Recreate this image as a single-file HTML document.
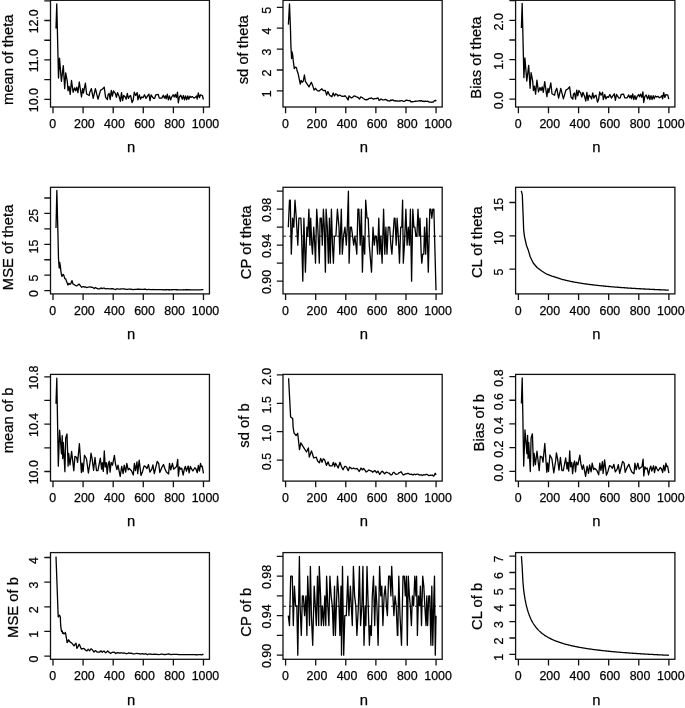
<!DOCTYPE html>
<html><head><meta charset="utf-8"><style>
html,body{margin:0;padding:0;background:#fff;overflow:hidden;}
svg{display:block;will-change:transform;}
text{font-family:"Liberation Sans",sans-serif;fill:#000;stroke:#000;stroke-width:0.25px;}
.tl{font-size:12.4px;}
.al{font-size:14.8px;}
.d{fill:none;stroke:#000;stroke-width:1.3;stroke-linejoin:round;}
.b{fill:none;stroke:#111;stroke-width:1.3;}
.t{fill:none;stroke:#111;stroke-width:1.3;}
.h{stroke:#000;stroke-width:0.9;stroke-dasharray:3 3;}
</style></head><body>
<svg width="685" height="708" viewBox="0 0 685 708">
<polyline class="d" points="56.00,28.40 56.76,3.80 58.50,78.00 59.50,58.10 61.40,81.30 63.30,65.60 64.70,88.60 65.70,72.90 67.30,81.30 68.00,90.80 69.10,86.40 70.20,94.40 71.50,80.50 73.10,92.20 74.60,87.80 75.70,90.80 76.80,87.10 77.90,92.60 79.30,82.00 81.50,97.00 82.60,88.60 83.40,93.00 85.40,83.10 86.60,94.00 89.20,95.50 89.90,91.90 91.40,88.60 93.20,98.40 95.40,88.60 98.00,99.20 100.50,90.40 102.30,89.30 104.20,87.10 105.60,97.30 107.40,99.50 108.00,94.80 109.10,93.30 110.20,99.50 111.30,90.40 112.40,96.20 113.50,90.80 114.20,91.90 115.30,93.30 116.40,97.30 117.50,92.60 119.00,96.20 120.40,101.40 121.50,92.60 122.60,100.60 123.70,95.50 125.20,97.00 126.20,99.20 127.30,93.30 128.40,98.40 129.50,96.20 130.60,95.50 132.10,102.50 133.20,99.90 134.30,92.20 135.70,95.50 137.20,92.60 137.90,99.90 139.40,94.80 140.50,99.20 141.60,97.00 143.00,97.70 144.50,94.80 146.00,98.40 147.40,96.20 148.90,94.10 150.00,100.60 151.10,94.80 152.50,97.00 153.60,98.40 154.70,98.40 155.80,94.80 158.20,94.40 159.30,98.10 161.80,98.10 163.30,95.20 164.40,98.10 165.50,95.90 166.20,98.80 167.30,94.10 168.40,99.90 169.50,95.90 170.60,99.90 171.70,97.00 173.20,94.80 174.20,97.00 175.30,94.40 176.40,97.70 177.50,92.20 178.30,102.80 179.40,97.00 180.80,95.20 182.30,99.20 183.40,95.50 184.50,99.90 185.60,95.90 186.70,99.90 187.80,95.90 188.80,99.20 189.90,96.20 191.00,97.30 192.50,96.60 194.00,98.10 195.40,97.30 196.50,95.90 197.20,99.20 198.30,93.00 199.40,97.70 200.50,94.80 202.40,95.50 203.40,99.50"/>
<rect class="b" x="50.50" y="0.30" width="158.95" height="106.70"/>
<path class="t" d="M50.50 99.40h-6.2M50.50 79.68h-6.2M50.50 59.96h-6.2M50.50 40.24h-6.2M50.50 20.52h-6.2M50.50 0.80h-6.2M53.00 107.00v6.2M83.09 107.00v6.2M113.19 107.00v6.2M143.28 107.00v6.2M173.38 107.00v6.2M203.47 107.00v6.2"/>
<text class="tl" transform="translate(38.20,100.17) rotate(-90)" text-anchor="middle">10.0</text>
<text class="tl" transform="translate(38.20,60.73) rotate(-90)" text-anchor="middle">11.0</text>
<text class="tl" transform="translate(38.20,21.29) rotate(-90)" text-anchor="middle">12.0</text>
<text class="tl" x="52.75" y="128.10" text-anchor="middle">0</text>
<text class="tl" x="84.34" y="128.10" text-anchor="middle">200</text>
<text class="tl" x="114.44" y="128.10" text-anchor="middle">400</text>
<text class="tl" x="144.53" y="128.10" text-anchor="middle">600</text>
<text class="tl" x="174.63" y="128.10" text-anchor="middle">800</text>
<text class="tl" x="205.47" y="128.10" text-anchor="middle">1000</text>
<text class="al" x="131.17" y="152.20" text-anchor="middle">n</text>
<text class="al" transform="translate(13.00,59.70) rotate(-90)" text-anchor="middle">mean of theta</text>
<polyline class="d" points="288.40,24.60 289.50,3.80 290.50,30.00 290.90,45.60 291.60,58.50 292.10,52.00 292.70,54.80 293.20,60.30 294.30,68.60 295.40,67.20 296.40,67.60 297.30,71.30 298.00,73.20 300.30,84.20 301.20,80.50 302.20,82.30 303.30,81.00 304.40,75.00 305.40,81.40 307.20,84.20 309.00,86.90 311.30,82.30 312.70,85.60 314.10,90.10 315.50,88.30 317.30,90.60 319.10,91.10 321.90,88.80 323.30,90.60 325.30,90.30 326.60,95.10 327.90,91.60 329.30,94.70 330.17,95.86 331.03,96.01 331.90,96.90 333.20,92.90 334.50,96.00 335.80,93.80 336.90,94.51 338.00,96.00 338.90,95.17 339.80,95.10 340.90,95.78 342.00,96.40 342.75,96.12 343.50,96.38 344.25,96.32 345.00,95.60 345.77,96.62 346.55,97.37 347.33,98.78 348.10,100.00 349.00,96.00 350.05,96.86 351.10,97.80 351.88,97.73 352.65,97.37 353.43,96.37 354.20,96.00 355.07,96.10 355.93,96.55 356.80,96.90 357.70,97.30 358.60,98.02 359.50,99.10 360.80,96.90 361.65,97.24 362.50,97.80 363.38,98.52 364.25,98.96 365.12,99.66 366.00,100.00 366.90,99.35 367.80,99.71 368.70,98.60 369.57,98.28 370.43,98.47 371.30,97.80 372.40,98.69 373.50,99.10 374.60,98.71 375.70,98.60 376.80,98.49 377.90,97.80 379.20,100.40 380.05,99.85 380.90,99.10 381.67,99.23 382.45,99.96 383.23,99.78 384.00,100.00 384.75,99.69 385.50,99.40 386.38,99.88 387.25,100.33 388.12,100.84 389.00,100.80 389.88,101.08 390.75,99.89 391.62,100.52 392.50,99.90 393.38,100.19 394.25,100.89 395.12,100.68 396.00,101.20 396.88,100.69 397.75,101.21 398.62,101.08 399.50,100.80 400.38,101.02 401.25,100.53 402.12,100.74 403.00,101.20 403.88,101.50 404.76,101.11 405.64,100.48 406.52,100.17 407.40,100.30 408.28,100.66 409.16,100.55 410.04,100.52 410.92,101.75 411.80,101.60 412.68,101.76 413.55,101.55 414.43,101.44 415.30,101.20 416.18,101.23 417.05,101.10 417.93,101.03 418.80,100.80 419.68,100.67 420.56,101.04 421.44,100.63 422.32,101.24 423.20,101.20 424.06,101.54 424.92,101.21 425.78,101.27 426.64,101.31 427.50,101.20 428.40,101.56 429.30,102.14 430.20,102.10 430.95,102.17 431.70,102.25 432.45,102.00 433.20,102.10 434.30,100.88 435.40,100.30 436.30,101.20"/>
<rect class="b" x="283.00" y="0.30" width="159.20" height="106.70"/>
<path class="t" d="M283.00 90.90h-6.2M283.00 70.00h-6.2M283.00 49.10h-6.2M283.00 28.20h-6.2M283.00 7.30h-6.2M285.60 107.00v6.2M315.69 107.00v6.2M345.79 107.00v6.2M375.88 107.00v6.2M405.98 107.00v6.2M436.07 107.00v6.2"/>
<text class="tl" transform="translate(270.70,93.83) rotate(-90)" text-anchor="middle">1</text>
<text class="tl" transform="translate(270.70,72.93) rotate(-90)" text-anchor="middle">2</text>
<text class="tl" transform="translate(270.70,52.03) rotate(-90)" text-anchor="middle">3</text>
<text class="tl" transform="translate(270.70,31.13) rotate(-90)" text-anchor="middle">4</text>
<text class="tl" transform="translate(270.70,10.23) rotate(-90)" text-anchor="middle">5</text>
<text class="tl" x="285.35" y="128.10" text-anchor="middle">0</text>
<text class="tl" x="316.94" y="128.10" text-anchor="middle">200</text>
<text class="tl" x="347.04" y="128.10" text-anchor="middle">400</text>
<text class="tl" x="377.13" y="128.10" text-anchor="middle">600</text>
<text class="tl" x="407.23" y="128.10" text-anchor="middle">800</text>
<text class="tl" x="438.07" y="128.10" text-anchor="middle">1000</text>
<text class="al" x="363.80" y="152.20" text-anchor="middle">n</text>
<text class="al" transform="translate(248.00,49.80) rotate(-90)" text-anchor="middle">sd of theta</text>
<polyline class="d" points="521.40,28.10 522.16,3.50 523.90,77.70 524.90,57.80 526.80,81.00 528.70,65.30 530.10,88.30 531.10,72.60 532.70,81.00 533.40,90.50 534.50,86.10 535.60,94.10 536.90,80.20 538.50,91.90 540.00,87.50 541.10,90.50 542.20,86.80 543.30,92.30 544.70,81.70 546.90,96.70 548.00,88.30 548.80,92.70 550.80,82.80 552.00,93.70 554.60,95.20 555.30,91.60 556.80,88.30 558.60,98.10 560.80,88.30 563.40,98.90 565.90,90.10 567.70,89.00 569.60,86.80 571.00,97.00 572.80,99.20 573.40,94.50 574.50,93.00 575.60,99.20 576.70,90.10 577.80,95.90 578.90,90.50 579.60,91.60 580.70,93.00 581.80,97.00 582.90,92.30 584.40,95.90 585.80,101.10 586.90,92.30 588.00,100.30 589.10,95.20 590.60,96.70 591.60,98.90 592.70,93.00 593.80,98.10 594.90,95.90 596.00,95.20 597.50,102.20 598.60,99.60 599.70,91.90 601.10,95.20 602.60,92.30 603.30,99.60 604.80,94.50 605.90,98.90 607.00,96.70 608.40,97.40 609.90,94.50 611.40,98.10 612.80,95.90 614.30,93.80 615.40,100.30 616.50,94.50 617.90,96.70 619.00,98.10 620.10,98.10 621.20,94.50 623.60,94.10 624.70,97.80 627.20,97.80 628.70,94.90 629.80,97.80 630.90,95.60 631.60,98.50 632.70,93.80 633.80,99.60 634.90,95.60 636.00,99.60 637.10,96.70 638.60,94.50 639.60,96.70 640.70,94.10 641.80,97.40 642.90,91.90 643.70,102.50 644.80,96.70 646.20,94.90 647.70,98.90 648.80,95.20 649.90,99.60 651.00,95.60 652.10,99.60 653.20,95.60 654.20,98.90 655.30,95.90 656.40,97.00 657.90,96.30 659.40,97.80 660.80,97.00 661.90,95.60 662.60,98.90 663.70,92.70 664.80,97.40 665.90,94.50 667.80,95.20 668.80,99.20"/>
<rect class="b" x="515.60" y="0.30" width="159.30" height="106.70"/>
<path class="t" d="M515.60 99.10h-6.2M515.60 79.40h-6.2M515.60 59.70h-6.2M515.60 40.00h-6.2M515.60 20.30h-6.2M515.60 0.60h-6.2M518.40 107.00v6.2M548.49 107.00v6.2M578.59 107.00v6.2M608.68 107.00v6.2M638.78 107.00v6.2M668.87 107.00v6.2"/>
<text class="tl" transform="translate(503.30,100.59) rotate(-90)" text-anchor="middle">0.0</text>
<text class="tl" transform="translate(503.30,61.19) rotate(-90)" text-anchor="middle">1.0</text>
<text class="tl" transform="translate(503.30,21.79) rotate(-90)" text-anchor="middle">2.0</text>
<text class="tl" x="518.15" y="128.10" text-anchor="middle">0</text>
<text class="tl" x="549.74" y="128.10" text-anchor="middle">200</text>
<text class="tl" x="579.84" y="128.10" text-anchor="middle">400</text>
<text class="tl" x="609.93" y="128.10" text-anchor="middle">600</text>
<text class="tl" x="640.03" y="128.10" text-anchor="middle">800</text>
<text class="tl" x="670.87" y="128.10" text-anchor="middle">1000</text>
<text class="al" x="596.45" y="152.20" text-anchor="middle">n</text>
<text class="al" transform="translate(481.20,57.60) rotate(-90)" text-anchor="middle">Bias of theta</text>
<polyline class="d" points="56.00,227.90 56.85,190.50 58.10,240.39 58.50,258.73 58.50,258.73 59.20,268.05 59.50,264.10 59.70,262.34 60.30,265.67 60.80,270.58 61.40,274.36 61.90,276.43 63.00,274.60 63.30,274.36 64.00,275.81 64.70,278.31 64.90,278.63 65.60,278.84 65.70,278.94 67.30,283.39 67.90,285.02 68.00,284.91 68.80,283.40 69.10,283.58 69.80,284.33 70.20,284.20 70.90,283.59 71.50,281.69 72.00,280.57 73.00,283.95 73.10,284.03 74.60,284.83 74.80,284.98 75.70,285.59 76.60,285.95 76.80,285.78 77.90,285.17 78.90,284.04 79.30,284.24 80.30,285.53 81.50,287.06 81.70,287.24 82.60,286.68 83.10,286.57 83.40,286.74 84.90,287.05 85.40,286.94 86.60,287.51 86.70,287.52 89.20,286.91 89.50,286.80 89.90,286.92 90.90,287.24 91.40,287.17 92.90,287.32 93.20,287.66 94.20,288.57 95.40,287.56 95.50,287.50 96.90,288.49 98.00,288.75 99.50,288.97 100.50,288.16 100.80,287.91 102.10,288.64 102.30,288.56 103.40,288.05 104.20,288.21 105.60,288.83 107.40,288.63 108.00,288.67 109.10,288.79 109.60,288.90 110.20,288.89 111.30,288.66 112.40,288.74 112.60,288.71 113.50,288.88 114.20,289.12 115.30,289.45 115.70,289.57 116.40,289.02 116.60,288.82 117.50,288.91 118.70,289.18 119.00,289.16 120.40,289.01 121.50,288.78 121.80,288.79 122.60,288.89 123.70,288.95 124.40,289.01 125.20,289.15 126.20,289.33 127.10,289.41 127.30,289.33 128.40,289.03 129.50,289.13 130.10,289.19 130.60,289.25 132.10,289.43 133.20,289.57 133.60,289.61 134.30,289.45 135.70,289.40 136.30,289.32 137.20,289.23 137.90,289.27 138.90,289.20 139.40,289.23 140.50,289.40 141.10,289.46 141.60,289.43 143.00,289.38 143.30,289.36 144.50,289.24 145.50,289.21 146.00,289.40 146.80,289.67 147.40,289.59 148.50,289.42 148.90,289.43 150.00,289.53 151.10,289.55 151.60,289.59 152.50,289.54 153.10,289.51 153.60,289.55 154.70,289.62 155.80,289.65 156.60,289.70 158.20,289.63 159.30,289.63 160.10,289.60 161.80,289.70 163.30,289.75 163.60,289.78 164.40,289.79 165.50,289.75 166.20,289.76 167.10,289.71 167.30,289.69 168.40,289.77 169.50,289.76 170.60,289.81 171.70,289.76 173.20,289.68 174.20,289.68 175.00,289.63 175.30,289.63 176.40,289.73 177.50,289.68 178.30,289.79 179.40,289.85 180.80,289.81 182.30,289.82 182.90,289.80 183.40,289.77 184.50,289.78 185.60,289.74 186.40,289.74 186.70,289.75 187.80,289.74 188.80,289.78 189.90,289.77 190.80,289.80 191.00,289.80 192.50,289.79 194.00,289.80 195.10,289.80 195.40,289.81 196.50,289.85 197.20,289.91 197.80,289.91 198.30,289.85 199.40,289.93 200.50,289.89 200.80,289.90 202.40,289.71 203.00,289.66 203.40,289.73"/>
<rect class="b" x="50.50" y="187.30" width="158.95" height="106.60"/>
<path class="t" d="M50.50 290.60h-6.2M50.50 275.17h-6.2M50.50 259.74h-6.2M50.50 244.31h-6.2M50.50 228.88h-6.2M50.50 213.45h-6.2M50.50 198.02h-6.2M53.00 293.90v6.2M83.09 293.90v6.2M113.19 293.90v6.2M143.28 293.90v6.2M173.38 293.90v6.2M203.47 293.90v6.2"/>
<text class="tl" transform="translate(38.20,293.53) rotate(-90)" text-anchor="middle">0</text>
<text class="tl" transform="translate(38.20,278.10) rotate(-90)" text-anchor="middle">5</text>
<text class="tl" transform="translate(38.20,246.52) rotate(-90)" text-anchor="middle">15</text>
<text class="tl" transform="translate(38.20,215.66) rotate(-90)" text-anchor="middle">25</text>
<text class="tl" x="52.75" y="315.00" text-anchor="middle">0</text>
<text class="tl" x="84.34" y="315.00" text-anchor="middle">200</text>
<text class="tl" x="114.44" y="315.00" text-anchor="middle">400</text>
<text class="tl" x="144.53" y="315.00" text-anchor="middle">600</text>
<text class="tl" x="174.63" y="315.00" text-anchor="middle">800</text>
<text class="tl" x="205.47" y="315.00" text-anchor="middle">1000</text>
<text class="al" x="131.17" y="339.10" text-anchor="middle">n</text>
<text class="al" transform="translate(13.40,247.40) rotate(-90)" text-anchor="middle">MSE of theta</text>
<polyline class="d" points="288.30,227.20 289.50,200.20 290.30,200.20 291.30,254.20 292.60,218.20 293.80,227.20 295.00,200.20 296.30,218.20 297.80,245.20 298.90,218.20 300.90,218.20 301.60,236.20 302.80,281.20 303.90,218.20 305.40,272.20 306.90,227.20 307.70,236.20 308.90,209.20 309.90,245.20 310.70,218.20 311.80,245.20 312.50,254.20 313.70,227.20 314.80,245.20 315.50,263.20 316.70,209.20 317.80,227.20 319.30,263.20 320.10,218.20 321.30,218.20 322.30,245.20 323.40,209.20 324.30,227.20 325.40,272.20 326.10,209.20 327.30,227.20 328.40,263.20 329.40,218.20 330.30,263.20 331.40,209.20 332.50,245.20 333.40,263.20 334.40,236.20 335.90,236.20 337.40,209.20 339.00,227.20 339.80,254.20 341.30,209.20 342.30,254.20 343.50,236.20 345.00,227.20 346.30,245.20 347.30,227.20 348.40,191.20 349.10,263.20 350.30,227.20 351.40,227.20 352.60,236.20 353.70,245.20 354.90,236.20 355.90,245.20 356.80,254.20 357.90,209.20 358.90,209.20 360.20,245.20 361.40,209.20 362.40,272.20 363.50,236.20 364.70,254.20 365.70,200.20 367.00,218.20 368.20,218.20 369.30,245.20 371.50,272.20 373.00,227.20 374.30,245.20 375.30,236.20 376.40,236.20 377.60,254.20 378.80,218.20 379.80,254.20 380.90,236.20 382.10,263.20 383.60,209.20 384.80,254.20 385.90,227.20 387.00,254.20 388.20,227.20 389.70,227.20 390.90,245.20 391.90,254.20 393.00,236.20 394.20,218.20 395.00,218.20 396.20,245.20 397.10,218.20 398.30,236.20 399.50,263.20 400.70,227.20 401.80,227.20 402.60,200.20 403.30,263.20 404.40,245.20 405.90,209.20 407.10,245.20 408.30,227.20 409.40,245.20 410.40,209.20 411.60,281.20 412.80,209.20 413.90,227.20 414.90,227.20 415.90,236.20 416.90,236.20 418.00,209.20 419.20,236.20 420.00,218.20 421.20,254.20 421.80,263.20 422.70,254.20 423.80,254.20 424.50,227.20 425.70,254.20 426.80,218.20 428.30,272.20 429.80,209.20 430.90,209.20 431.80,218.20 432.80,209.20 433.90,209.20 434.80,245.20 436.00,290.20"/>
<line class="h" x1="283.00" x2="442.20" y1="236.20" y2="236.20"/>
<rect class="b" x="283.00" y="187.30" width="159.20" height="106.60"/>
<path class="t" d="M283.00 281.20h-6.2M283.00 263.20h-6.2M283.00 245.20h-6.2M283.00 227.20h-6.2M283.00 209.20h-6.2M283.00 191.20h-6.2M285.60 293.90v6.2M315.69 293.90v6.2M345.79 293.90v6.2M375.88 293.90v6.2M405.98 293.90v6.2M436.07 293.90v6.2"/>
<text class="tl" transform="translate(270.70,281.97) rotate(-90)" text-anchor="middle">0.90</text>
<text class="tl" transform="translate(270.70,245.97) rotate(-90)" text-anchor="middle">0.94</text>
<text class="tl" transform="translate(270.70,209.97) rotate(-90)" text-anchor="middle">0.98</text>
<text class="tl" x="285.35" y="315.00" text-anchor="middle">0</text>
<text class="tl" x="316.94" y="315.00" text-anchor="middle">200</text>
<text class="tl" x="347.04" y="315.00" text-anchor="middle">400</text>
<text class="tl" x="377.13" y="315.00" text-anchor="middle">600</text>
<text class="tl" x="407.23" y="315.00" text-anchor="middle">800</text>
<text class="tl" x="438.07" y="315.00" text-anchor="middle">1000</text>
<text class="al" x="363.80" y="339.10" text-anchor="middle">n</text>
<text class="al" transform="translate(251.20,242.30) rotate(-90)" text-anchor="middle">CP of theta</text>
<polyline class="d" points="521.30,190.80 522.30,194.60 523.00,212.40 523.70,230.30 524.50,236.60 526.50,245.50 528.40,250.60 530.30,257.00 533.40,263.30 537.30,267.80 541.70,271.00 546.80,274.20 551.90,276.10 553.01,276.36 553.76,276.64 554.51,276.92 555.27,277.20 556.02,277.46 556.77,277.71 557.52,277.96 558.27,278.20 559.03,278.43 559.78,278.66 560.53,278.88 561.28,279.10 562.04,279.30 562.79,279.51 563.54,279.71 564.29,279.90 565.05,280.09 565.80,280.27 566.55,280.45 567.30,280.63 568.06,280.80 568.81,280.96 569.56,281.13 570.31,281.29 571.06,281.44 571.82,281.60 572.57,281.74 573.32,281.89 574.07,282.03 574.83,282.17 575.58,282.31 576.33,282.45 577.08,282.58 577.84,282.71 578.59,282.84 579.34,282.96 580.09,283.08 580.85,283.20 581.60,283.32 582.35,283.44 583.10,283.55 583.85,283.66 584.61,283.77 585.36,283.88 586.11,283.99 586.86,284.09 587.62,284.19 588.37,284.29 589.12,284.39 589.87,284.49 590.63,284.59 591.38,284.68 592.13,284.77 592.88,284.87 593.63,284.96 594.39,285.05 595.14,285.13 595.89,285.22 596.64,285.30 597.40,285.39 598.15,285.47 598.90,285.55 599.65,285.63 600.41,285.71 601.16,285.79 601.91,285.87 602.66,285.94 603.42,286.02 604.17,286.09 604.92,286.16 605.67,286.24 606.42,286.31 607.18,286.38 607.93,286.45 608.68,286.51 609.43,286.58 610.19,286.65 610.94,286.71 611.69,286.78 612.44,286.84 613.20,286.91 613.95,286.97 614.70,287.03 615.45,287.09 616.21,287.15 616.96,287.21 617.71,287.27 618.46,287.33 619.21,287.39 619.97,287.44 620.72,287.50 621.47,287.56 622.22,287.61 622.98,287.66 623.73,287.72 624.48,287.77 625.23,287.82 625.99,287.88 626.74,287.93 627.49,287.98 628.24,288.03 629.00,288.08 629.75,288.13 630.50,288.18 631.25,288.23 632.00,288.28 632.76,288.32 633.51,288.37 634.26,288.42 635.01,288.46 635.77,288.51 636.52,288.55 637.27,288.60 638.02,288.64 638.78,288.69 639.53,288.73 640.28,288.77 641.03,288.82 641.79,288.86 642.54,288.90 643.29,288.94 644.04,288.98 644.79,289.02 645.55,289.06 646.30,289.10 647.05,289.14 647.80,289.18 648.56,289.22 649.31,289.26 650.06,289.30 650.81,289.34 651.57,289.38 652.32,289.41 653.07,289.45 653.82,289.49 654.58,289.52 655.33,289.56 656.08,289.60 656.83,289.63 657.58,289.67 658.34,289.70 659.09,289.74 659.84,289.77 660.59,289.80 661.35,289.84 662.10,289.87 662.85,289.91 663.60,289.94 664.36,289.97 665.11,290.00 665.86,290.04 666.61,290.07 667.37,290.10 668.12,290.13 668.87,290.16"/>
<rect class="b" x="515.60" y="187.30" width="159.30" height="106.60"/>
<path class="t" d="M515.60 269.10h-6.2M515.60 235.80h-6.2M515.60 202.50h-6.2M518.40 293.90v6.2M548.49 293.90v6.2M578.59 293.90v6.2M608.68 293.90v6.2M638.78 293.90v6.2M668.87 293.90v6.2"/>
<text class="tl" transform="translate(503.30,272.03) rotate(-90)" text-anchor="middle">5</text>
<text class="tl" transform="translate(503.30,238.01) rotate(-90)" text-anchor="middle">10</text>
<text class="tl" transform="translate(503.30,204.71) rotate(-90)" text-anchor="middle">15</text>
<text class="tl" x="518.15" y="315.00" text-anchor="middle">0</text>
<text class="tl" x="549.74" y="315.00" text-anchor="middle">200</text>
<text class="tl" x="579.84" y="315.00" text-anchor="middle">400</text>
<text class="tl" x="609.93" y="315.00" text-anchor="middle">600</text>
<text class="tl" x="640.03" y="315.00" text-anchor="middle">800</text>
<text class="tl" x="670.87" y="315.00" text-anchor="middle">1000</text>
<text class="al" x="596.45" y="339.10" text-anchor="middle">n</text>
<text class="al" transform="translate(482.20,242.20) rotate(-90)" text-anchor="middle">CL of theta</text>
<polyline class="d" points="56.00,403.70 56.80,378.20 58.30,466.20 59.60,430.20 61.50,453.90 62.20,435.70 62.70,458.60 63.30,442.50 64.90,471.70 65.70,438.20 67.00,434.00 68.10,466.20 68.70,453.50 70.00,464.90 71.60,451.40 73.80,470.80 74.90,456.40 76.60,457.30 77.60,462.40 79.40,443.70 81.40,472.50 82.20,463.20 83.10,471.70 84.50,455.20 86.50,459.00 88.40,473.00 90.30,460.70 91.00,453.10 92.10,458.60 93.60,470.30 95.00,457.50 96.50,470.70 97.90,470.70 100.30,458.20 101.60,469.20 102.30,462.60 103.30,471.40 104.30,451.00 105.20,467.00 106.30,462.60 107.20,473.90 108.20,464.10 109.20,461.20 110.10,472.10 111.10,462.30 112.50,465.20 114.40,455.30 115.50,464.10 116.90,469.60 118.00,465.20 120.20,476.50 121.70,466.30 123.10,473.60 124.20,465.20 125.70,472.10 126.80,463.40 128.20,469.90 129.30,468.50 131.50,470.70 133.30,475.00 134.40,463.40 135.50,470.70 137.00,461.90 137.70,473.60 139.20,460.10 141.00,475.40 142.60,471.40 144.10,465.90 145.60,466.60 147.00,468.50 148.50,464.50 149.90,472.10 151.80,469.20 152.90,464.80 154.30,473.60 157.20,461.50 158.70,463.40 159.80,472.50 162.00,467.00 163.50,464.50 164.90,468.80 166.40,472.10 168.60,473.90 169.50,463.40 170.80,469.90 172.40,463.40 173.70,469.20 176.60,466.60 177.70,459.30 178.40,476.10 179.50,467.00 180.60,469.20 181.70,468.10 183.20,475.00 184.30,469.20 185.40,466.30 186.40,471.20 188.20,466.00 189.10,472.90 190.40,466.50 191.40,468.70 192.90,471.00 194.80,467.70 196.10,469.20 197.30,472.70 198.30,465.50 199.50,471.00 200.50,463.30 201.30,466.70 202.20,466.30 203.50,473.40"/>
<rect class="b" x="50.50" y="374.40" width="158.95" height="106.70"/>
<path class="t" d="M50.50 471.50h-6.2M50.50 447.82h-6.2M50.50 424.14h-6.2M50.50 400.46h-6.2M50.50 376.78h-6.2M53.00 481.10v6.2M83.09 481.10v6.2M113.19 481.10v6.2M143.28 481.10v6.2M173.38 481.10v6.2M203.47 481.10v6.2"/>
<text class="tl" transform="translate(38.20,472.27) rotate(-90)" text-anchor="middle">10.0</text>
<text class="tl" transform="translate(38.20,424.91) rotate(-90)" text-anchor="middle">10.4</text>
<text class="tl" transform="translate(38.20,377.55) rotate(-90)" text-anchor="middle">10.8</text>
<text class="tl" x="52.75" y="502.20" text-anchor="middle">0</text>
<text class="tl" x="84.34" y="502.20" text-anchor="middle">200</text>
<text class="tl" x="114.44" y="502.20" text-anchor="middle">400</text>
<text class="tl" x="144.53" y="502.20" text-anchor="middle">600</text>
<text class="tl" x="174.63" y="502.20" text-anchor="middle">800</text>
<text class="tl" x="205.47" y="502.20" text-anchor="middle">1000</text>
<text class="al" x="131.17" y="526.30" text-anchor="middle">n</text>
<text class="al" transform="translate(13.30,420.30) rotate(-90)" text-anchor="middle">mean of b</text>
<polyline class="d" points="288.60,378.30 290.60,416.90 292.70,418.60 293.10,427.10 294.00,432.80 296.10,435.60 297.70,433.30 299.50,449.70 300.80,442.90 303.60,447.40 306.50,452.00 308.40,447.90 309.30,457.10 311.50,450.90 313.70,458.00 316.30,457.10 317.60,461.00 319.40,462.80 320.70,458.40 322.00,462.30 323.30,458.80 324.60,459.70 326.40,465.40 328.10,461.90 329.50,465.80 332.10,465.80 333.40,462.30 334.70,466.70 335.60,463.20 338.20,468.00 340.00,462.30 341.30,466.30 343.00,469.80 344.80,466.30 345.65,466.40 346.50,467.10 347.40,469.07 348.30,470.60 349.60,467.10 350.70,467.70 351.80,468.90 352.65,468.51 353.50,468.00 354.40,468.63 355.30,468.90 356.15,468.74 357.00,468.50 358.10,469.90 359.20,471.50 360.10,469.91 361.00,468.00 362.30,469.80 363.60,468.50 364.90,470.20 366.20,472.00 367.03,471.46 367.87,470.81 368.70,470.00 369.48,470.26 370.26,470.73 371.04,470.80 371.82,471.27 372.60,472.20 373.70,471.36 374.80,470.60 375.60,471.18 376.40,472.80 377.20,472.08 378.00,471.10 378.85,472.75 379.70,474.40 380.60,473.13 381.50,471.70 382.40,471.10 383.50,472.49 384.60,473.90 385.70,472.71 386.80,472.20 387.68,472.78 388.56,473.19 389.44,473.22 390.32,474.58 391.20,475.00 392.10,474.47 393.00,472.68 393.90,472.20 394.83,473.31 395.77,474.19 396.70,474.40 397.56,473.98 398.42,473.53 399.28,472.51 400.14,472.28 401.00,471.70 402.10,473.26 403.20,475.00 404.30,474.68 405.40,473.90 406.50,473.81 407.60,473.30 408.53,473.48 409.47,474.19 410.40,474.40 411.30,474.10 412.20,474.73 413.10,475.00 413.93,474.28 414.75,474.15 415.57,474.78 416.40,474.40 417.22,474.22 418.05,474.15 418.88,474.85 419.70,475.00 420.52,474.96 421.35,474.84 422.18,475.59 423.00,475.00 423.80,474.57 424.60,474.85 425.40,474.87 426.20,474.40 427.02,474.34 427.85,474.92 428.68,475.55 429.50,475.50 430.43,475.18 431.37,475.38 432.30,475.00 433.10,475.86 433.90,476.10 435.20,473.30 436.10,475.00"/>
<rect class="b" x="283.00" y="374.40" width="159.20" height="106.70"/>
<path class="t" d="M283.00 460.10h-6.2M283.00 431.70h-6.2M283.00 403.30h-6.2M283.00 374.90h-6.2M285.60 481.10v6.2M315.69 481.10v6.2M345.79 481.10v6.2M375.88 481.10v6.2M405.98 481.10v6.2M436.07 481.10v6.2"/>
<text class="tl" transform="translate(270.70,461.59) rotate(-90)" text-anchor="middle">0.5</text>
<text class="tl" transform="translate(270.70,433.19) rotate(-90)" text-anchor="middle">1.0</text>
<text class="tl" transform="translate(270.70,404.79) rotate(-90)" text-anchor="middle">1.5</text>
<text class="tl" transform="translate(270.70,376.39) rotate(-90)" text-anchor="middle">2.0</text>
<text class="tl" x="285.35" y="502.20" text-anchor="middle">0</text>
<text class="tl" x="316.94" y="502.20" text-anchor="middle">200</text>
<text class="tl" x="347.04" y="502.20" text-anchor="middle">400</text>
<text class="tl" x="377.13" y="502.20" text-anchor="middle">600</text>
<text class="tl" x="407.23" y="502.20" text-anchor="middle">800</text>
<text class="tl" x="438.07" y="502.20" text-anchor="middle">1000</text>
<text class="al" x="363.80" y="526.30" text-anchor="middle">n</text>
<text class="al" transform="translate(249.00,425.50) rotate(-90)" text-anchor="middle">sd of b</text>
<polyline class="d" points="521.40,403.50 522.20,378.00 523.70,466.00 525.00,430.00 526.90,453.70 527.60,435.50 528.10,458.40 528.70,442.30 530.30,471.50 531.10,438.00 532.40,433.80 533.50,466.00 534.10,453.30 535.40,464.70 537.00,451.20 539.20,470.60 540.30,456.20 542.00,457.10 543.00,462.20 544.80,443.50 546.80,472.30 547.60,463.00 548.50,471.50 549.90,455.00 551.90,458.80 553.80,472.80 555.70,460.50 556.40,452.90 557.50,458.40 559.00,470.10 560.40,457.30 561.90,470.50 563.30,470.50 565.70,458.00 567.00,469.00 567.70,462.40 568.70,471.20 569.70,450.80 570.60,466.80 571.70,462.40 572.60,473.70 573.60,463.90 574.60,461.00 575.50,471.90 576.50,462.10 577.90,465.00 579.80,455.10 580.90,463.90 582.30,469.40 583.40,465.00 585.60,476.30 587.10,466.10 588.50,473.40 589.60,465.00 591.10,471.90 592.20,463.20 593.60,469.70 594.70,468.30 596.90,470.50 598.70,474.80 599.80,463.20 600.90,470.50 602.40,461.70 603.10,473.40 604.60,459.90 606.40,475.20 608.00,471.20 609.50,465.70 611.00,466.40 612.40,468.30 613.90,464.30 615.30,471.90 617.20,469.00 618.30,464.60 619.70,473.40 622.60,461.30 624.10,463.20 625.20,472.30 627.40,466.80 628.90,464.30 630.30,468.60 631.80,471.90 634.00,473.70 634.90,463.20 636.20,469.70 637.80,463.20 639.10,469.00 642.00,466.40 643.10,459.10 643.80,475.90 644.90,466.80 646.00,469.00 647.10,467.90 648.60,474.80 649.70,469.00 650.80,466.10 651.80,471.00 653.60,465.80 654.50,472.70 655.80,466.30 656.80,468.50 658.30,470.80 660.20,467.50 661.50,469.00 662.70,472.50 663.70,465.30 664.90,470.80 665.90,463.10 666.70,466.50 667.60,466.10 668.90,473.20"/>
<rect class="b" x="515.60" y="374.40" width="159.30" height="106.70"/>
<path class="t" d="M515.60 471.30h-6.2M515.60 447.62h-6.2M515.60 423.94h-6.2M515.60 400.26h-6.2M515.60 376.58h-6.2M518.40 481.10v6.2M548.49 481.10v6.2M578.59 481.10v6.2M608.68 481.10v6.2M638.78 481.10v6.2M668.87 481.10v6.2"/>
<text class="tl" transform="translate(503.30,472.79) rotate(-90)" text-anchor="middle">0.0</text>
<text class="tl" transform="translate(503.30,449.11) rotate(-90)" text-anchor="middle">0.2</text>
<text class="tl" transform="translate(503.30,425.43) rotate(-90)" text-anchor="middle">0.4</text>
<text class="tl" transform="translate(503.30,401.75) rotate(-90)" text-anchor="middle">0.6</text>
<text class="tl" transform="translate(503.30,378.07) rotate(-90)" text-anchor="middle">0.8</text>
<text class="tl" x="518.15" y="502.20" text-anchor="middle">0</text>
<text class="tl" x="549.74" y="502.20" text-anchor="middle">200</text>
<text class="tl" x="579.84" y="502.20" text-anchor="middle">400</text>
<text class="tl" x="609.93" y="502.20" text-anchor="middle">600</text>
<text class="tl" x="640.03" y="502.20" text-anchor="middle">800</text>
<text class="tl" x="670.87" y="502.20" text-anchor="middle">1000</text>
<text class="al" x="596.45" y="526.30" text-anchor="middle">n</text>
<text class="al" transform="translate(483.70,422.70) rotate(-90)" text-anchor="middle">Bias of b</text>
<polyline class="d" points="56.00,556.50 58.20,616.71 58.30,616.97 59.60,615.16 60.30,616.90 60.70,625.96 61.50,631.31 61.60,631.68 62.20,630.82 62.70,633.33 63.30,632.81 63.70,633.89 64.90,633.30 65.30,632.34 65.70,633.84 67.00,641.58 67.10,642.50 68.10,641.24 68.40,639.97 68.70,639.98 70.00,641.88 71.20,642.70 71.60,642.88 73.80,645.65 74.10,645.88 74.90,644.53 76.00,643.14 76.60,646.67 76.90,648.28 77.60,647.44 79.10,644.23 79.40,644.49 81.30,648.99 81.40,648.97 82.20,648.73 83.10,648.70 83.90,648.42 84.50,648.94 85.20,649.93 86.50,650.58 87.00,650.92 88.30,649.18 88.40,649.31 89.60,650.79 90.30,649.87 90.90,648.83 91.00,648.80 92.10,649.44 92.20,649.50 93.60,651.56 94.00,651.98 95.00,650.92 95.70,650.59 96.50,651.56 97.10,652.16 97.90,652.16 99.70,651.98 100.30,651.27 101.00,650.76 101.60,651.63 102.30,652.33 102.30,652.33 103.20,651.21 103.30,651.28 104.30,651.22 105.20,652.50 105.80,652.81 106.30,652.23 107.20,651.34 107.60,650.85 108.20,651.47 108.90,652.18 109.20,652.35 110.10,653.13 110.60,653.40 111.10,652.99 112.40,652.26 112.50,652.28 114.10,652.22 114.40,652.33 115.50,653.34 115.90,653.59 116.90,652.85 117.20,652.58 118.00,652.74 119.40,653.16 120.20,652.99 121.10,652.89 121.70,652.93 122.90,653.16 123.10,653.14 124.20,653.00 124.60,653.01 125.70,653.48 126.80,653.78 126.80,653.78 128.20,653.12 128.60,652.88 129.30,653.17 129.90,653.42 131.20,653.04 131.50,653.16 132.50,653.54 133.30,653.82 133.80,654.01 134.40,653.78 135.50,653.66 136.30,653.43 137.00,653.43 137.70,653.70 139.20,653.70 140.20,654.06 141.00,653.90 142.40,653.65 142.60,653.73 144.00,654.17 144.10,654.14 145.60,653.74 147.00,654.44 147.30,654.56 148.50,654.16 149.90,653.82 150.00,653.79 151.80,654.35 152.20,654.44 152.90,654.27 154.30,654.08 154.40,654.07 157.20,654.31 158.70,654.58 158.80,654.61 159.80,654.48 161.50,654.05 162.00,654.13 163.50,654.36 164.30,654.54 164.90,654.49 166.40,654.28 168.60,653.93 169.50,654.16 170.80,654.70 170.80,654.70 172.40,654.42 173.00,654.42 173.70,654.42 175.20,654.31 176.60,654.42 177.70,654.29 178.00,654.54 178.40,654.56 179.50,654.62 180.60,654.69 180.70,654.70 181.70,654.65 183.20,654.59 184.00,654.58 184.30,654.58 185.40,654.59 186.40,654.67 187.30,654.69 188.20,654.65 189.10,654.70 190.40,654.66 190.60,654.67 191.40,654.66 192.90,654.62 193.80,654.57 194.80,654.63 196.10,654.73 197.10,654.81 197.30,654.80 198.30,654.70 199.50,654.72 199.90,654.68 200.50,654.67 201.30,654.86 201.50,654.88 202.20,654.57 202.80,654.33 203.50,654.62"/>
<rect class="b" x="50.50" y="552.60" width="158.95" height="106.70"/>
<path class="t" d="M50.50 656.10h-6.2M50.50 631.45h-6.2M50.50 606.80h-6.2M50.50 582.15h-6.2M50.50 557.50h-6.2M53.00 659.30v6.2M83.09 659.30v6.2M113.19 659.30v6.2M143.28 659.30v6.2M173.38 659.30v6.2M203.47 659.30v6.2"/>
<text class="tl" transform="translate(38.20,659.03) rotate(-90)" text-anchor="middle">0</text>
<text class="tl" transform="translate(38.20,634.38) rotate(-90)" text-anchor="middle">1</text>
<text class="tl" transform="translate(38.20,609.73) rotate(-90)" text-anchor="middle">2</text>
<text class="tl" transform="translate(38.20,585.08) rotate(-90)" text-anchor="middle">3</text>
<text class="tl" transform="translate(38.20,560.43) rotate(-90)" text-anchor="middle">4</text>
<text class="tl" x="52.75" y="680.40" text-anchor="middle">0</text>
<text class="tl" x="84.34" y="680.40" text-anchor="middle">200</text>
<text class="tl" x="114.44" y="680.40" text-anchor="middle">400</text>
<text class="tl" x="144.53" y="680.40" text-anchor="middle">600</text>
<text class="tl" x="174.63" y="680.40" text-anchor="middle">800</text>
<text class="tl" x="205.47" y="680.40" text-anchor="middle">1000</text>
<text class="al" x="131.17" y="704.50" text-anchor="middle">n</text>
<text class="al" transform="translate(17.50,607.50) rotate(-90)" text-anchor="middle">MSE of b</text>
<polyline class="d" points="288.30,615.68 289.50,625.56 290.70,576.16 292.30,576.16 293.30,625.56 294.40,586.04 295.60,605.80 296.80,605.80 297.80,655.20 299.40,556.40 300.10,605.80 301.30,635.44 302.40,595.92 303.40,595.92 304.60,615.68 305.90,595.92 306.90,635.44 307.70,576.16 308.90,605.80 309.50,625.56 310.40,566.28 311.40,615.68 312.70,645.32 314.20,586.04 315.30,605.80 316.30,625.56 317.50,576.16 318.70,625.56 319.30,566.28 320.60,595.92 321.30,625.56 322.40,605.80 323.60,625.56 324.80,595.92 325.80,625.56 326.60,576.16 327.80,605.80 328.90,625.56 329.90,576.16 331.10,595.92 332.30,605.80 333.40,635.44 334.50,586.04 335.40,635.44 336.40,605.80 337.50,576.16 338.70,595.92 339.90,635.44 341.00,586.04 341.50,655.20 342.50,566.28 343.70,655.20 344.80,615.68 346.30,615.68 347.80,576.16 348.90,615.68 350.40,586.04 351.30,605.80 352.30,625.56 353.40,566.28 354.60,595.92 355.80,605.80 356.90,635.44 358.40,605.80 359.40,566.28 360.60,625.56 361.90,605.80 362.90,566.28 364.00,645.32 365.20,605.80 365.90,625.56 367.00,566.28 368.20,605.80 369.40,645.32 370.20,625.56 371.30,635.44 372.30,595.92 373.50,576.16 374.70,625.56 375.80,586.04 376.90,605.80 378.10,645.32 379.60,566.28 380.80,595.92 381.80,586.04 382.90,625.56 384.10,595.92 385.30,586.04 386.40,605.80 387.40,615.68 388.60,576.16 389.90,576.16 390.90,595.92 391.70,566.28 392.90,595.92 393.90,615.68 395.00,595.92 396.20,605.80 397.40,635.44 397.80,635.44 398.80,576.16 400.00,615.68 401.50,645.32 403.00,576.16 404.30,576.16 405.30,595.92 406.40,576.16 407.30,645.32 408.30,576.16 409.40,595.92 410.30,605.80 411.40,625.56 412.40,595.92 413.60,605.80 414.80,576.16 415.90,595.92 416.60,576.16 417.40,635.44 418.50,595.92 419.70,605.80 420.40,586.04 421.50,625.56 422.70,576.16 423.80,586.04 424.80,605.80 426.00,625.56 426.80,595.92 427.60,625.56 428.80,595.92 429.80,595.92 430.90,645.32 431.80,586.04 432.80,645.32 433.90,595.92 434.50,576.16 435.30,655.20 436.00,615.68"/>
<line class="h" x1="283.00" x2="442.20" y1="606.25" y2="606.25"/>
<rect class="b" x="283.00" y="552.60" width="159.20" height="106.70"/>
<path class="t" d="M283.00 655.20h-6.2M283.00 635.44h-6.2M283.00 615.68h-6.2M283.00 595.92h-6.2M283.00 576.16h-6.2M283.00 556.40h-6.2M285.60 659.30v6.2M315.69 659.30v6.2M345.79 659.30v6.2M375.88 659.30v6.2M405.98 659.30v6.2M436.07 659.30v6.2"/>
<text class="tl" transform="translate(270.70,655.97) rotate(-90)" text-anchor="middle">0.90</text>
<text class="tl" transform="translate(270.70,616.45) rotate(-90)" text-anchor="middle">0.94</text>
<text class="tl" transform="translate(270.70,576.93) rotate(-90)" text-anchor="middle">0.98</text>
<text class="tl" x="285.35" y="680.40" text-anchor="middle">0</text>
<text class="tl" x="316.94" y="680.40" text-anchor="middle">200</text>
<text class="tl" x="347.04" y="680.40" text-anchor="middle">400</text>
<text class="tl" x="377.13" y="680.40" text-anchor="middle">600</text>
<text class="tl" x="407.23" y="680.40" text-anchor="middle">800</text>
<text class="tl" x="438.07" y="680.40" text-anchor="middle">1000</text>
<text class="al" x="363.80" y="704.50" text-anchor="middle">n</text>
<text class="al" transform="translate(251.00,612.20) rotate(-90)" text-anchor="middle">CP of b</text>
<polyline class="d" points="521.41,556.12 522.16,566.77 522.91,581.51 523.67,590.05 524.42,595.43 525.17,599.88 525.92,603.64 526.68,606.86 527.43,609.66 528.18,612.13 528.93,614.33 529.69,616.29 530.44,618.07 531.19,619.68 531.94,621.15 532.69,622.51 533.45,623.75 534.20,624.91 534.95,625.98 535.70,626.98 536.46,627.92 537.21,628.80 537.96,629.62 538.71,630.40 539.47,631.14 540.22,631.83 540.97,632.49 541.72,633.12 542.48,633.72 543.23,634.28 543.98,634.83 544.73,635.34 545.48,635.84 546.24,636.31 546.99,636.77 547.74,637.21 548.49,637.63 549.25,638.03 550.00,638.42 550.75,638.80 551.50,639.16 552.26,639.51 553.01,639.85 553.76,640.17 554.51,640.49 555.27,640.80 556.02,641.09 556.77,641.38 557.52,641.66 558.27,641.93 559.03,642.19 559.78,642.45 560.53,642.70 561.28,642.94 562.04,643.17 562.79,643.40 563.54,643.63 564.29,643.84 565.05,644.06 565.80,644.26 566.55,644.47 567.30,644.66 568.06,644.85 568.81,645.04 569.56,645.23 570.31,645.41 571.06,645.58 571.82,645.75 572.57,645.92 573.32,646.09 574.07,646.25 574.83,646.40 575.58,646.56 576.33,646.71 577.08,646.86 577.84,647.00 578.59,647.15 579.34,647.29 580.09,647.42 580.85,647.56 581.60,647.69 582.35,647.82 583.10,647.95 583.85,648.07 584.61,648.19 585.36,648.32 586.11,648.43 586.86,648.55 587.62,648.67 588.37,648.78 589.12,648.89 589.87,649.00 590.63,649.11 591.38,649.21 592.13,649.32 592.88,649.42 593.63,649.52 594.39,649.62 595.14,649.72 595.89,649.81 596.64,649.91 597.40,650.00 598.15,650.09 598.90,650.18 599.65,650.27 600.41,650.36 601.16,650.45 601.91,650.53 602.66,650.62 603.42,650.70 604.17,650.78 604.92,650.86 605.67,650.94 606.42,651.02 607.18,651.10 607.93,651.18 608.68,651.25 609.43,651.33 610.19,651.40 610.94,651.48 611.69,651.55 612.44,651.62 613.20,651.69 613.95,651.76 614.70,651.83 615.45,651.90 616.21,651.96 616.96,652.03 617.71,652.09 618.46,652.16 619.21,652.22 619.97,652.29 620.72,652.35 621.47,652.41 622.22,652.47 622.98,652.53 623.73,652.59 624.48,652.65 625.23,652.71 625.99,652.77 626.74,652.82 627.49,652.88 628.24,652.94 629.00,652.99 629.75,653.05 630.50,653.10 631.25,653.16 632.00,653.21 632.76,653.26 633.51,653.31 634.26,653.36 635.01,653.42 635.77,653.47 636.52,653.52 637.27,653.57 638.02,653.61 638.78,653.66 639.53,653.71 640.28,653.76 641.03,653.81 641.79,653.85 642.54,653.90 643.29,653.95 644.04,653.99 644.79,654.04 645.55,654.08 646.30,654.12 647.05,654.17 647.80,654.21 648.56,654.25 649.31,654.30 650.06,654.34 650.81,654.38 651.57,654.42 652.32,654.46 653.07,654.51 653.82,654.55 654.58,654.59 655.33,654.63 656.08,654.66 656.83,654.70 657.58,654.74 658.34,654.78 659.09,654.82 659.84,654.86 660.59,654.89 661.35,654.93 662.10,654.97 662.85,655.01 663.60,655.04 664.36,655.08 665.11,655.11 665.86,655.15 666.61,655.18 667.37,655.22 668.12,655.25 668.87,655.29"/>
<rect class="b" x="515.60" y="552.60" width="159.30" height="106.70"/>
<path class="t" d="M515.60 654.40h-6.2M515.60 638.02h-6.2M515.60 621.64h-6.2M515.60 605.26h-6.2M515.60 588.88h-6.2M515.60 572.50h-6.2M515.60 556.12h-6.2M518.40 659.30v6.2M548.49 659.30v6.2M578.59 659.30v6.2M608.68 659.30v6.2M638.78 659.30v6.2M668.87 659.30v6.2"/>
<text class="tl" transform="translate(503.30,657.33) rotate(-90)" text-anchor="middle">1</text>
<text class="tl" transform="translate(503.30,640.95) rotate(-90)" text-anchor="middle">2</text>
<text class="tl" transform="translate(503.30,624.57) rotate(-90)" text-anchor="middle">3</text>
<text class="tl" transform="translate(503.30,608.19) rotate(-90)" text-anchor="middle">4</text>
<text class="tl" transform="translate(503.30,591.81) rotate(-90)" text-anchor="middle">5</text>
<text class="tl" transform="translate(503.30,575.43) rotate(-90)" text-anchor="middle">6</text>
<text class="tl" transform="translate(503.30,559.05) rotate(-90)" text-anchor="middle">7</text>
<text class="tl" x="518.15" y="680.40" text-anchor="middle">0</text>
<text class="tl" x="549.74" y="680.40" text-anchor="middle">200</text>
<text class="tl" x="579.84" y="680.40" text-anchor="middle">400</text>
<text class="tl" x="609.93" y="680.40" text-anchor="middle">600</text>
<text class="tl" x="640.03" y="680.40" text-anchor="middle">800</text>
<text class="tl" x="670.87" y="680.40" text-anchor="middle">1000</text>
<text class="al" x="596.45" y="704.50" text-anchor="middle">n</text>
<text class="al" transform="translate(481.60,606.40) rotate(-90)" text-anchor="middle">CL of b</text>
</svg>
</body></html>
